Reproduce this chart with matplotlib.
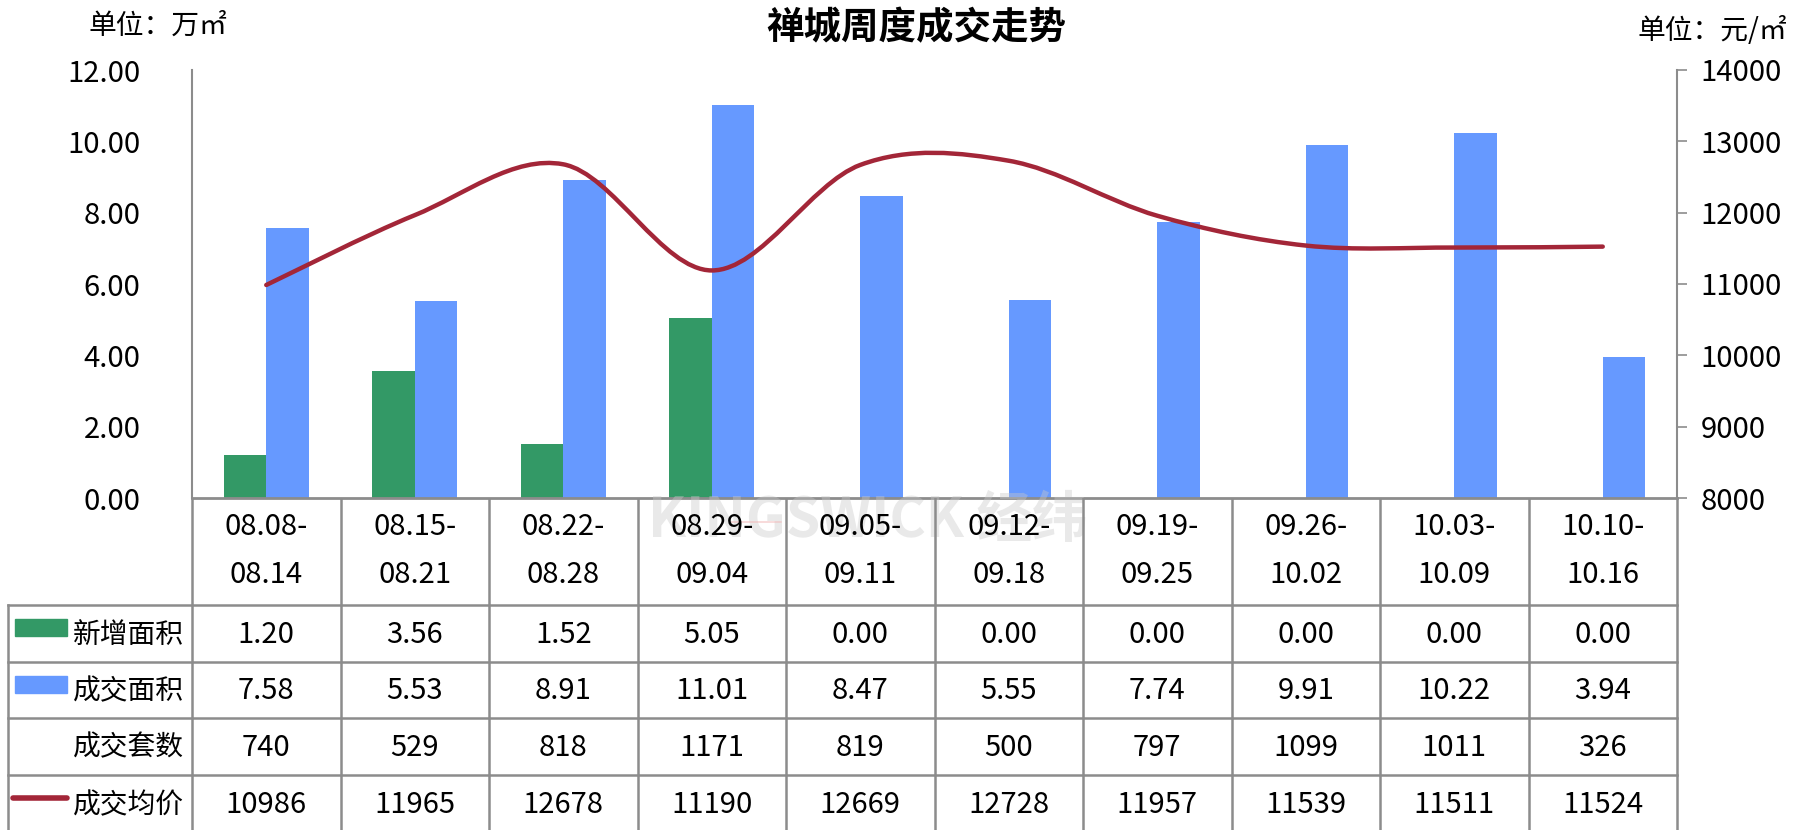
import matplotlib
matplotlib.use("Agg")
import matplotlib.pyplot as plt
import numpy as np
from matplotlib.path import Path
import matplotlib.patches as patch

plt.rcParams['font.family'] = ['Noto Sans CJK SC', 'DejaVu Sans']

# data
weeks = ["08.08-\n08.14", "08.15-\n08.21", "08.22-\n08.28", "08.29-\n09.04", "09.05-\n09.11",
         "09.12-\n09.18", "09.19-\n09.25", "09.26-\n10.02", "10.03-\n10.09", "10.10-\n10.16"]
new_area = [1.20, 3.56, 1.52, 5.05, 0.00, 0.00, 0.00, 0.00, 0.00, 0.00]
deal_area = [7.58, 5.53, 8.91, 11.01, 8.47, 5.55, 7.74, 9.91, 10.22, 3.94]
deal_units = [740, 529, 818, 1171, 819, 500, 797, 1099, 1011, 326]
avg_price = [10986, 11965, 12678, 11190, 12669, 12728, 11957, 11539, 11511, 11524]

green = "#339966"
blue = "#6699FF"
red = "#A32638"
grid = "#8C8C8C"
fs = 21

W, H = 1793, 830
fig = plt.figure(figsize=(W / 100, H / 100), dpi=100)

# pixel layout of plot area
px_l, px_r, px_t, px_b = 192, 1677, 70, 498
colw = (px_r - px_l) / len(weeks)

ax = fig.add_axes([px_l / W, 1 - px_b / H, (px_r - px_l) / W, (px_b - px_t) / H])
ax2 = ax.twinx()

x = np.arange(len(weeks))
w = 0.285
ax.bar(x - w / 2, new_area, w, color=green, zorder=2)
ax.bar(x + w / 2, deal_area, w, color=blue, zorder=2)
ax.set_xlim(-0.5, len(weeks) - 0.5)
ax.set_ylim(0, 12)
ax.set_yticks(np.arange(0, 12.1, 2))
ax.set_yticklabels([f"{v:.2f}" for v in np.arange(0, 12.1, 2)])
ax.set_xticks([])
ax.tick_params(axis='y', length=0, labelsize=fs, pad=37)
for s in ["top", "right"]:
    ax.spines[s].set_visible(False)
ax.spines["left"].set_color(grid)
ax.spines["left"].set_linewidth(1.5)
ax.spines["bottom"].set_color(grid)
ax.spines["bottom"].set_linewidth(2)

# smoothed price line (Catmull-Rom as cubic bezier)
pts = np.column_stack([x, avg_price]).astype(float)
verts = [tuple(pts[0])]
codes = [Path.MOVETO]
n = len(pts)
for i in range(n - 1):
    p0 = pts[max(i - 1, 0)]
    p1 = pts[i]
    p2 = pts[i + 1]
    p3 = pts[min(i + 2, n - 1)]
    c1 = p1 + (p2 - p0) / 6
    c2 = p2 - (p3 - p1) / 6
    verts += [tuple(c1), tuple(c2), tuple(p2)]
    codes += [Path.CURVE4] * 3
ax2.add_patch(patch.PathPatch(Path(verts, codes), facecolor="none", edgecolor=red,
                              lw=3.2, capstyle="round", zorder=3))
ax2.set_ylim(8000, 14000)
ax2.set_yticks(np.arange(8000, 14001, 1000))
ax2.tick_params(axis='y', length=7, width=1.2, color=grid, labelsize=fs, pad=10)
for s in ["top", "left", "bottom"]:
    ax2.spines[s].set_visible(False)
ax2.spines["right"].set_color(grid)
ax2.spines["right"].set_linewidth(1.5)

# titles / units
fig.text(916 / W, 1 - 28 / H, "禅城周度成交走势", ha="center", va="center", fontsize=27, fontweight="bold")
fig.text(89 / W, 1 - 26 / H, "单位：万㎡", ha="left", va="center", fontsize=20)
fig.text(1787 / W, 1 - 31 / H, "单位：元/㎡", ha="right", va="center", fontsize=20)

# data table (x in category units, y in pixels)
tb = fig.add_axes([0, 0, 1, (H - px_b) / H])
tb.set_xlim(-0.5 - px_l / colw, -0.5 + (W - px_l) / colw)
tb.set_ylim(H, px_b)
tb.axis("off")

# faint watermark
tb.text(4.05, 521, "KINGSWICK 经纬", ha="center", va="center", fontsize=40, fontweight="bold",
        color="#C8C8C8", alpha=0.4, zorder=0)
tb.add_patch(patch.Circle((3.3, 522), 0.17, color="#F2B8B8", alpha=0.45, zorder=0))

rows_y = [605, 662, 718, 775, 833]
left_edge = -0.5 - (px_l - 8) / colw
right_edge = len(weeks) - 0.5
lk = dict(color=grid, lw=1.8, zorder=1)
for y in rows_y[:-1]:
    tb.plot([left_edge, right_edge], [y, y], **lk)
tb.plot([left_edge, left_edge], [rows_y[0], H], **lk)
for i in range(len(weeks) + 1):
    tb.plot([i - 0.5, i - 0.5], [px_b, H], **lk)

for i, lab in enumerate(weeks):
    a, b = lab.split("\n")
    tb.text(i, 527, a, ha="center", va="center", fontsize=fs)
    tb.text(i, 575, b, ha="center", va="center", fontsize=fs)

labels = ["新增面积", "成交面积", "成交套数", "成交均价"]
vals = [[f"{v:.2f}" for v in new_area], [f"{v:.2f}" for v in deal_area],
        [str(v) for v in deal_units], [str(v) for v in avg_price]]
lab_x = -0.5 - (px_l - 184) / colw
for r in range(4):
    yc = (rows_y[r] + rows_y[r + 1]) / 2 + 1
    tb.text(lab_x, yc, labels[r], ha="right", va="center", fontsize=20)
    for i, v in enumerate(vals[r]):
        tb.text(i, yc, v, ha="center", va="center", fontsize=fs)

# legend keys inside the table
sx0 = -0.5 - (px_l - 15) / colw
sw = 52 / colw
tb.add_patch(patch.Rectangle((sx0, 619), sw, 17, color=green))
tb.add_patch(patch.Rectangle((sx0, 676), sw, 17, color=blue))
tb.plot([sx0 - 2 / colw, sx0 + sw], [798, 798], color=red, lw=4, solid_capstyle="round")

fig.savefig("out.png", dpi=100)
